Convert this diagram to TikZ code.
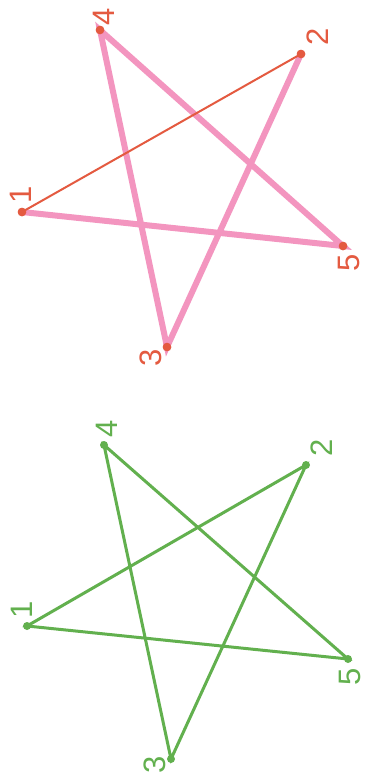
\documentclass[tikz,border=0pt]{standalone}
\usepackage{fontspec}
\setmainfont{Liberation Sans}
\begin{document}
\begin{tikzpicture}[x=1pt,y=-1pt,
  dotr/.style={circle,fill=redor,inner sep=0pt,minimum size=8.5pt},
  dotg/.style={circle,fill=grn,inner sep=0pt,minimum size=8pt},
  labr/.style={text=redor,rotate=90,font=\fontsize{31}{31}\selectfont,inner sep=0pt},
  labg/.style={text=grn,rotate=90,font=\fontsize{31}{31}\selectfont,inner sep=0pt},
  pinkline/.style={draw=pnk,line width=6pt,opacity=0.7,line cap=round},
  thinred/.style={draw=redor,line width=2pt},
  grnline/.style={draw=grn,line width=3pt,line cap=round}]
\definecolor{redor}{RGB}{228,90,64}
\definecolor{pnk}{RGB}{238,105,165}
\definecolor{grn}{RGB}{98,176,78}
\useasboundingbox[fill=white] (0,0) rectangle (367,780);
% top star
\node[dotr] (t1) at (22,212) {};
\node[dotr] (t2) at (301,54) {};
\node[dotr] (t3) at (167,347) {};
\node[dotr] (t4) at (100,30) {};
\node[dotr] (t5) at (343,246) {};
\draw[pinkline] (t2.center) -- (t3.center) -- (t4.center) -- (t5.center) -- (t1.center);
\draw[thinred] (t1.center) -- (t2.center);
\node[dotr] at (t1) {};
\node[dotr] at (t2) {};
\node[dotr] at (t3) {};
\node[dotr] at (t4) {};
\node[dotr] at (t5) {};
\node[labr] (lt1) at (21,195) {1};
\node[labr] (lt2) at (318,37) {2};
\node[labr] (lt3) at (151,358) {3};
\node[labr] (lt4) at (104,17) {4};
\node[labr] (lt5) at (349,263) {5};
% bottom star
\node[dotg] (b1) at (27,626) {};
\node[dotg] (b2) at (306,465) {};
\node[dotg] (b3) at (171,759) {};
\node[dotg] (b4) at (104,445) {};
\node[dotg] (b5) at (348,659) {};
\draw[grnline] (b1.center) -- (b2.center) -- (b3.center) -- (b4.center) -- (b5.center) -- cycle;
\node[labg] (lb1) at (22,610) {1};
\node[labg] (lb2) at (322,448) {2};
\node[labg] (lb3) at (155,765) {3};
\node[labg] (lb4) at (107,429) {4};
\node[labg] (lb5) at (350,677) {5};
\end{tikzpicture}
\end{document}
